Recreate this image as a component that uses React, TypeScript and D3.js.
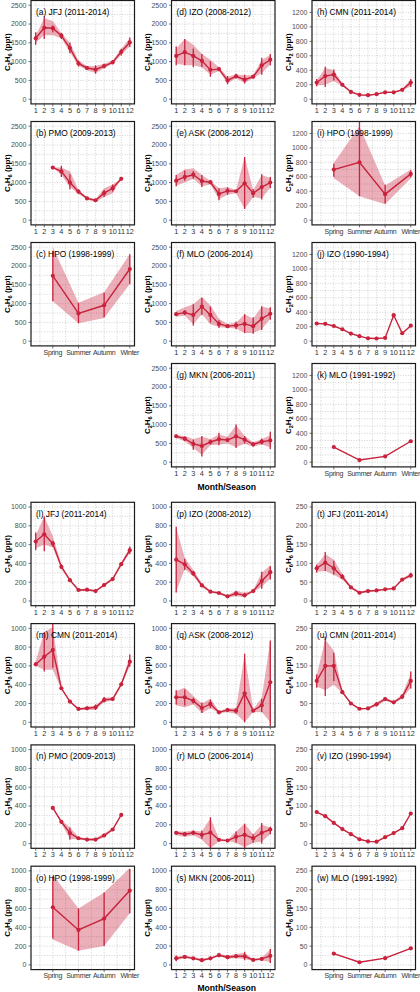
import React from 'react';
import * as d3 from 'd3';

// Row: [x (month), mean, errLo, errHi, bandLo, bandHi]
type Row = [number, number, number, number, number, number];

const MONTH_TICKS = [1, 2, 3, 4, 5, 6, 7, 8, 9, 10, 11, 12];
const SEASON_TICKS = [3, 6, 9, 12];
const SEASON_LABELS = ['Spring', 'Summer', 'Autumn', 'Winter'];

// ---------- Top block: C2H6 (cols 1-2), C2H2 (col 3) ----------
const aJFJ: Row[] = [
  [1, 1620, 1450, 1780, 1500, 1700], [2, 1900, 1600, 2200, 1700, 2150], [3, 1890, 1780, 1960, 1700, 2080],
  [4, 1690, 1600, 1760, 1620, 1760], [5, 1360, 1220, 1500, 1250, 1500], [6, 950, 870, 1030, 880, 1030],
  [7, 830, 780, 880, 770, 880], [8, 790, 680, 900, 700, 880], [9, 880, 820, 940, 820, 940],
  [10, 980, 930, 1040, 940, 1030], [11, 1260, 1160, 1340, 1180, 1340], [12, 1510, 1390, 1640, 1400, 1620],
];
const bPMO: Row[] = [
  [3, 1400, 1390, 1410, 1400, 1400], [4, 1300, 1150, 1450, 1200, 1400], [5, 1000, 820, 1220, 880, 1300],
  [6, 760, 700, 820, 700, 800], [7, 580, 550, 620, 550, 610], [8, 530, 500, 560, 480, 560],
  [9, 720, 620, 800, 620, 850], [10, 850, 760, 950, 720, 950], [11, 1100, 1090, 1110, 1100, 1100],
];
const cHPO: Row[] = [
  [3, 1740, 1060, 2400, 1060, 2500], [6, 740, 480, 1020, 480, 1020],
  [9, 955, 640, 1290, 620, 1300], [12, 1920, 1520, 2310, 1520, 2310],
];
const dIZO: Row[] = [
  [1, 1150, 900, 1400, 950, 1350], [2, 1250, 900, 1600, 900, 1600], [3, 1150, 850, 1350, 900, 1450],
  [4, 1020, 850, 1200, 850, 1200], [5, 780, 600, 1000, 650, 1050], [6, 800, 750, 850, 750, 850],
  [7, 500, 400, 620, 420, 600], [8, 610, 550, 680, 560, 660], [9, 520, 420, 650, 430, 640],
  [10, 600, 550, 650, 560, 640], [11, 900, 650, 1100, 700, 1050], [12, 1050, 900, 1200, 920, 1170],
];
const eASK: Row[] = [
  [1, 1050, 900, 1200, 920, 1200], [2, 1150, 1050, 1320, 1000, 1350], [3, 1210, 1100, 1300, 1100, 1380],
  [4, 1040, 880, 1200, 900, 1200], [5, 1010, 980, 1040, 950, 1050], [6, 700, 530, 850, 560, 850],
  [7, 780, 680, 870, 680, 880], [8, 770, 730, 800, 720, 800], [9, 980, 300, 1680, 300, 1680],
  [10, 720, 600, 830, 620, 800], [11, 880, 550, 1220, 580, 1200], [12, 1000, 850, 1150, 870, 1120],
];
const fMLO: Row[] = [
  [1, 720, 690, 760, 650, 800], [2, 760, 700, 820, 680, 900], [3, 700, 420, 980, 450, 980],
  [4, 920, 700, 1150, 720, 1180], [5, 700, 500, 920, 450, 950], [6, 460, 350, 560, 380, 600],
  [7, 400, 360, 440, 350, 460], [8, 420, 320, 520, 340, 500], [9, 460, 220, 720, 220, 720],
  [10, 400, 200, 640, 220, 600], [11, 600, 300, 930, 320, 920], [12, 730, 570, 900, 600, 870],
];
const gMKN: Row[] = [
  [1, 690, 650, 730, 640, 720], [2, 625, 560, 680, 560, 700], [3, 485, 330, 600, 380, 620],
  [4, 430, 150, 700, 200, 680], [5, 537, 470, 600, 450, 620], [6, 610, 450, 780, 470, 740],
  [7, 590, 540, 650, 500, 680], [8, 690, 380, 1000, 400, 980], [9, 600, 500, 700, 490, 700],
  [10, 475, 420, 530, 410, 530], [11, 545, 470, 630, 470, 620], [12, 580, 350, 810, 400, 720],
];
const hCMN: Row[] = [
  [1, 230, 180, 280, 190, 260], [2, 320, 170, 450, 200, 430], [3, 340, 260, 410, 250, 400],
  [4, 200, 180, 220, 180, 220], [5, 100, 90, 110, 90, 110], [6, 60, 50, 70, 50, 70],
  [7, 55, 48, 62, 48, 62], [8, 70, 62, 78, 62, 78], [9, 95, 85, 105, 85, 105],
  [10, 95, 85, 105, 85, 105], [11, 130, 120, 145, 120, 145], [12, 230, 170, 280, 180, 270],
];
const iHPO: Row[] = [
  [3, 700, 600, 780, 580, 790], [6, 800, 330, 1400, 330, 1300],
  [9, 360, 230, 490, 220, 480], [12, 640, 590, 690, 580, 700],
];
const jIZO: Row[] = [
  [1, 245, 240, 250, 240, 250], [2, 240, 235, 245, 235, 245], [3, 210, 205, 215, 205, 215],
  [4, 165, 160, 170, 160, 170], [5, 105, 100, 110, 100, 110], [6, 70, 65, 75, 65, 75],
  [7, 40, 36, 44, 36, 44], [8, 37, 33, 41, 33, 41], [9, 45, 41, 49, 41, 49],
  [10, 360, 355, 365, 355, 365], [11, 110, 105, 115, 105, 115], [12, 215, 210, 220, 210, 220],
];
const kMLO: Row[] = [
  [3, 210, 205, 215, 205, 215], [6, 30, 26, 34, 26, 34],
  [9, 80, 76, 84, 76, 84], [12, 290, 285, 295, 285, 295],
];

// ---------- Bottom block: C3H8 (cols 1-2), C6H6 (col 3) ----------
const lJFJ: Row[] = [
  [1, 632, 540, 730, 560, 700], [2, 710, 530, 900, 600, 900], [3, 611, 580, 640, 570, 690],
  [4, 364, 340, 390, 340, 390], [5, 222, 210, 235, 210, 235], [6, 117, 110, 130, 108, 128],
  [7, 120, 110, 130, 110, 130], [8, 106, 100, 115, 98, 115], [9, 170, 155, 185, 155, 185],
  [10, 233, 220, 250, 220, 250], [11, 392, 380, 410, 375, 410], [12, 541, 500, 580, 510, 570],
];
const mCMN: Row[] = [
  [1, 617, 600, 640, 600, 650], [2, 698, 540, 960, 560, 960], [3, 770, 580, 1050, 560, 1010],
  [4, 362, 350, 375, 350, 375], [5, 220, 210, 230, 210, 230], [6, 142, 130, 155, 130, 150],
  [7, 149, 130, 170, 130, 165], [8, 160, 130, 190, 130, 180], [9, 238, 210, 270, 215, 265],
  [10, 248, 230, 270, 230, 265], [11, 404, 390, 420, 390, 420], [12, 645, 590, 720, 600, 700],
];
const nPMO: Row[] = [
  [3, 380, 375, 385, 380, 380], [4, 232, 210, 250, 215, 250], [5, 112, 40, 170, 50, 170],
  [6, 57, 50, 65, 45, 70], [7, 43, 38, 48, 30, 55], [8, 43, 38, 48, 30, 60],
  [9, 86, 70, 105, 65, 110], [10, 150, 140, 160, 140, 160], [11, 305, 300, 310, 305, 305],
];
const oHPO: Row[] = [
  [3, 613, 280, 940, 270, 960], [6, 372, 150, 600, 150, 600],
  [9, 493, 200, 770, 200, 770], [12, 791, 550, 1020, 550, 1030],
];
const pIZO: Row[] = [
  [1, 440, 90, 790, 100, 780], [2, 390, 330, 450, 340, 460], [3, 293, 270, 320, 260, 330],
  [4, 166, 150, 185, 150, 190], [5, 99, 90, 110, 88, 110], [6, 85, 75, 95, 75, 95],
  [7, 50, 40, 65, 35, 65], [8, 80, 50, 110, 50, 110], [9, 60, 40, 90, 40, 85],
  [10, 106, 95, 115, 95, 115], [11, 212, 130, 310, 150, 300], [12, 307, 230, 370, 240, 380],
];
const qASK: Row[] = [
  [1, 266, 190, 340, 180, 330], [2, 266, 180, 350, 160, 370], [3, 227, 200, 260, 190, 280],
  [4, 152, 100, 210, 100, 200], [5, 195, 150, 240, 150, 250], [6, 106, 95, 120, 95, 120],
  [7, 131, 110, 150, 110, 150], [8, 124, 90, 150, 90, 150], [9, 308, 0, 730, 0, 720],
  [10, 124, 110, 140, 110, 140], [11, 181, 110, 250, 110, 260], [12, 425, -40, 870, 0, 870],
];
const rMLO: Row[] = [
  [1, 115, 100, 130, 90, 130], [2, 100, 80, 120, 70, 130], [3, 115, 90, 140, 90, 140],
  [4, 93, 50, 140, 40, 130], [5, 118, -60, 280, -50, 270], [6, 40, 25, 55, 25, 55],
  [7, 32, 25, 40, 25, 40], [8, 72, 10, 130, 10, 130], [9, 93, -50, 210, -40, 210],
  [10, 57, 10, 100, 10, 100], [11, 115, 0, 220, 20, 200], [12, 150, 100, 180, 100, 170],
];
const sMKN: Row[] = [
  [1, 70, 40, 100, 50, 90], [2, 85, 70, 100, 70, 100], [3, 70, 60, 85, 60, 85],
  [4, 50, 30, 70, 35, 65], [5, 70, 60, 80, 60, 80], [6, 103, 95, 115, 95, 115],
  [7, 82, 60, 105, 65, 100], [8, 92, 70, 115, 70, 115], [9, 92, 50, 140, 60, 130],
  [10, 53, 45, 60, 45, 60], [11, 64, 50, 80, 50, 78], [12, 96, 20, 170, 30, 160],
];
const tJFJ: Row[] = [
  [1, 87, 76, 97, 78, 96], [2, 102, 80, 130, 80, 125], [3, 87, 70, 107, 70, 110],
  [4, 64, 58, 72, 57, 72], [5, 36, 33, 40, 33, 40], [6, 22, 18, 26, 19, 26],
  [7, 26.5, 24, 29, 24, 29], [8, 28, 26, 30, 26, 30], [9, 31, 29, 33, 29, 33],
  [10, 33.5, 31, 36, 31, 36], [11, 57, 54, 60, 54, 60], [12, 68, 62, 75, 63, 74],
];
const uCMN: Row[] = [
  [1, 110, 92, 127, 95, 125], [2, 150, 70, 228, 85, 220], [3, 150, 110, 185, 100, 190],
  [4, 80, 77, 83, 77, 83], [5, 50, 48, 53, 48, 53], [6, 36, 34, 38, 34, 38],
  [7, 37, 35, 39, 35, 39], [8, 48, 42, 54, 43, 53], [9, 62, 57, 66, 57, 66],
  [10, 53, 50, 56, 50, 56], [11, 68, 62, 75, 63, 74], [12, 110, 90, 135, 92, 130],
];
const vIZO: Row[] = [
  [1, 84, 83, 85, 83, 85], [2, 73, 72, 74, 72, 74], [3, 55, 54, 56, 54, 56],
  [4, 38.5, 37.5, 39.5, 37.5, 39.5], [5, 25, 24, 26, 24, 26], [6, 11.6, 10.6, 12.6, 10.6, 12.6],
  [7, 6, 5, 7, 5, 7], [8, 5, 4, 6, 4, 6], [9, 17, 16, 18, 16, 18],
  [10, 28, 27, 29, 27, 29], [11, 41, 40, 42, 40, 42], [12, 80, 79, 81, 79, 81],
];
const wMLO: Row[] = [
  [3, 30, 29, 31, 29, 31], [6, 7, 6, 8, 6, 8], [9, 18, 17, 19, 17, 19], [12, 44, 43, 45, 43, 45],
];

// ---------- axis settings per block/column ----------
type YAxis = { domain: [number, number]; ticks: number[]; minor: number[]; species: [string, string, string, string] };
const Y_TOP_C2H6: YAxis = { domain: [0, 2500], ticks: d3.range(0, 2501, 500), minor: d3.range(250, 2500, 500), species: ['C', '2', 'H', '6'] };
const Y_TOP_C2H2: YAxis = { domain: [0, 1300], ticks: d3.range(0, 1201, 200), minor: d3.range(100, 1301, 200), species: ['C', '2', 'H', '2'] };
const Y_BOT_C3H8: YAxis = { domain: [0, 1000], ticks: d3.range(0, 1001, 200), minor: d3.range(100, 1000, 200), species: ['C', '3', 'H', '8'] };
const Y_BOT_C6H6: YAxis = { domain: [0, 250], ticks: d3.range(0, 251, 50), minor: d3.range(25, 250, 50), species: ['C', '6', 'H', '6'] };

type Panel = { title: string; block: 0 | 1; col: number; row: number; data: Row[]; season: boolean; y: YAxis };
const PANELS: Panel[] = [
  { title: '(a) JFJ (2011-2014)', block: 0, col: 0, row: 0, data: aJFJ, season: false, y: Y_TOP_C2H6 },
  { title: '(b) PMO (2009-2013)', block: 0, col: 0, row: 1, data: bPMO, season: false, y: Y_TOP_C2H6 },
  { title: '(c) HPO (1998-1999)', block: 0, col: 0, row: 2, data: cHPO, season: true, y: Y_TOP_C2H6 },
  { title: '(d) IZO (2008-2012)', block: 0, col: 1, row: 0, data: dIZO, season: false, y: Y_TOP_C2H6 },
  { title: '(e) ASK (2008-2012)', block: 0, col: 1, row: 1, data: eASK, season: false, y: Y_TOP_C2H6 },
  { title: '(f) MLO (2006-2014)', block: 0, col: 1, row: 2, data: fMLO, season: false, y: Y_TOP_C2H6 },
  { title: '(g) MKN (2006-2011)', block: 0, col: 1, row: 3, data: gMKN, season: false, y: Y_TOP_C2H6 },
  { title: '(h) CMN (2011-2014)', block: 0, col: 2, row: 0, data: hCMN, season: false, y: Y_TOP_C2H2 },
  { title: '(i) HPO (1998-1999)', block: 0, col: 2, row: 1, data: iHPO, season: true, y: Y_TOP_C2H2 },
  { title: '(j) IZO (1990-1994)', block: 0, col: 2, row: 2, data: jIZO, season: false, y: Y_TOP_C2H2 },
  { title: '(k) MLO (1991-1992)', block: 0, col: 2, row: 3, data: kMLO, season: true, y: Y_TOP_C2H2 },
  { title: '(l) JFJ (2011-2014)', block: 1, col: 0, row: 0, data: lJFJ, season: false, y: Y_BOT_C3H8 },
  { title: '(m) CMN (2011-2014)', block: 1, col: 0, row: 1, data: mCMN, season: false, y: Y_BOT_C3H8 },
  { title: '(n) PMO (2009-2013)', block: 1, col: 0, row: 2, data: nPMO, season: false, y: Y_BOT_C3H8 },
  { title: '(o) HPO (1998-1999)', block: 1, col: 0, row: 3, data: oHPO, season: true, y: Y_BOT_C3H8 },
  { title: '(p) IZO (2008-2012)', block: 1, col: 1, row: 0, data: pIZO, season: false, y: Y_BOT_C3H8 },
  { title: '(q) ASK (2008-2012)', block: 1, col: 1, row: 1, data: qASK, season: false, y: Y_BOT_C3H8 },
  { title: '(r) MLO (2006-2014)', block: 1, col: 1, row: 2, data: rMLO, season: false, y: Y_BOT_C3H8 },
  { title: '(s) MKN (2006-2011)', block: 1, col: 1, row: 3, data: sMKN, season: false, y: Y_BOT_C3H8 },
  { title: '(t) JFJ (2011-2014)', block: 1, col: 2, row: 0, data: tJFJ, season: false, y: Y_BOT_C6H6 },
  { title: '(u) CMN (2011-2014)', block: 1, col: 2, row: 1, data: uCMN, season: false, y: Y_BOT_C6H6 },
  { title: '(v) IZO (1990-1994)', block: 1, col: 2, row: 2, data: vIZO, season: false, y: Y_BOT_C6H6 },
  { title: '(w) MLO (1991-1992)', block: 1, col: 2, row: 3, data: wMLO, season: true, y: Y_BOT_C6H6 },
];

// ---------- layout ----------
const W = 420;
const H = 992;
const COL_LEFT = [31, 171.5, 312];
const PW = 103.5;
const PH = 103.4;
const BLOCK_TOP = [0.5, 502.3];
const ROW_STEP = [121, 121.3];
const RED = '#C8223C';
const FONT = 'Liberation Sans, Arial, Helvetica, sans-serif';
const XLABEL_Y = [487, 988];

function PanelView({ p, idx }: { p: Panel; idx: number }) {
  const left = COL_LEFT[p.col];
  const top = BLOCK_TOP[p.block] + p.row * ROW_STEP[p.block];
  const bottom = top + PH;
  const [y0, y1] = p.y.domain;
  const ypad = (y1 - y0) * 0.05;
  const y = d3.scaleLinear().domain([y0 - ypad, y1 + ypad]).range([bottom, top]);
  const xpad = (12 - 1) * 0.05;
  const x = d3.scaleLinear().domain([1 - xpad, 12 + xpad]).range([left, left + PW]);

  const xMajor = p.season ? SEASON_TICKS : MONTH_TICKS;
  const xMinor = p.season ? [1.5, 4.5, 7.5, 10.5] : [];
  const xLabels = p.season ? SEASON_LABELS : MONTH_TICKS.map(String);

  const area = d3.area<Row>().x((d) => x(d[0])).y0((d) => y(d[4])).y1((d) => y(d[5]));
  const line = d3.line<Row>().x((d) => x(d[0])).y((d) => y(d[1]));
  const clipId = `clip-${idx}`;
  const gridStyle = { stroke: '#bdbdbd', strokeWidth: 0.7, strokeDasharray: '1 1.6' };
  const sp = p.y.species;
  const midY = (top + bottom) / 2;
  const titleX = left - 24;

  return (
    <g>
      <defs>
        <clipPath id={clipId}>
          <rect x={left} y={top} width={PW} height={PH} />
        </clipPath>
      </defs>
      {/* grid */}
      <g>
        {[...p.y.ticks, ...p.y.minor].map((t, i) => (
          <line key={`h${i}`} x1={left} x2={left + PW} y1={y(t)} y2={y(t)} {...gridStyle} />
        ))}
        {[...xMajor, ...xMinor].map((t, i) => (
          <line key={`v${i}`} x1={x(t)} x2={x(t)} y1={top} y2={bottom} {...gridStyle} />
        ))}
      </g>
      {/* data */}
      <g clipPath={`url(#${clipId})`}>
        <path d={area(p.data) || ''} fill={RED} fillOpacity={0.36} stroke="none" />
        {p.data.map((d, i) => (
          <line key={`e${i}`} x1={x(d[0])} x2={x(d[0])} y1={y(d[2])} y2={y(d[3])} stroke={RED} strokeWidth={1.3} />
        ))}
        <path d={line(p.data) || ''} fill="none" stroke={RED} strokeWidth={1.4} />
        {p.data.map((d, i) => (
          <circle key={`c${i}`} cx={x(d[0])} cy={y(d[1])} r={2.1} fill={RED} />
        ))}
      </g>
      {/* frame */}
      <rect x={left} y={top} width={PW} height={PH} fill="none" stroke="#1a1a1a" strokeWidth={1.2} />
      {/* y axis */}
      {p.y.ticks.map((t, i) => (
        <g key={`yt${i}`}>
          <line x1={left - 2.5} x2={left} y1={y(t)} y2={y(t)} stroke="#333" strokeWidth={0.7} />
          <text x={left - 4.5} y={y(t)} dy="0.35em" textAnchor="end" fontSize={7} fill="#4d4d4d" fontFamily={FONT}>
            {t}
          </text>
        </g>
      ))}
      {/* x axis */}
      {xMajor.map((t, i) => (
        <g key={`xt${i}`}>
          <line x1={x(t)} x2={x(t)} y1={bottom} y2={bottom + 2.5} stroke="#333" strokeWidth={0.7} />
          <text
            x={x(t)}
            y={bottom + 8.8}
            textAnchor="middle"
            fontSize={p.season ? 7 : 7.3}
            letterSpacing={p.season ? -0.3 : 0}
            fill="#333"
            fontFamily={FONT}
          >
            {xLabels[i]}
          </text>
        </g>
      ))}
      {/* panel title */}
      <text x={left + 5} y={top + 14.5} fontSize={8.4} fill="#000" fontFamily={FONT}>
        {p.title}
      </text>
      {/* y axis title */}
      <text
        transform={`translate(${titleX},${midY}) rotate(-90)`}
        textAnchor="middle"
        fontSize={8}
        fontWeight="bold"
        fill="#000"
        fontFamily={FONT}
        dy="0.35em"
      >
        {sp[0]}
        <tspan fontSize={5.6} dy={1.8}>{sp[1]}</tspan>
        <tspan dy={-1.8}>{sp[2]}</tspan>
        <tspan fontSize={5.6} dy={1.8}>{sp[3]}</tspan>
        <tspan dy={-1.8}> (ppt)</tspan>
      </text>
    </g>
  );
}

export default function App() {
  const xLabelX = COL_LEFT[1] + PW / 2 + 3.5;
  return (
    <svg width={W} height={H} style={{ position: 'absolute', left: 0, top: 0, background: '#fff' }}>
      <rect x={0} y={0} width={W} height={H} fill="#fff" />
      {PANELS.map((p, i) => (
        <PanelView key={i} p={p} idx={i} />
      ))}
      {XLABEL_Y.map((yy, i) => (
        <text key={i} x={xLabelX} y={yy} dy="0.35em" textAnchor="middle" fontSize={8.6} fontWeight="bold" fontFamily={FONT}>
          Month/Season
        </text>
      ))}
    </svg>
  );
}
